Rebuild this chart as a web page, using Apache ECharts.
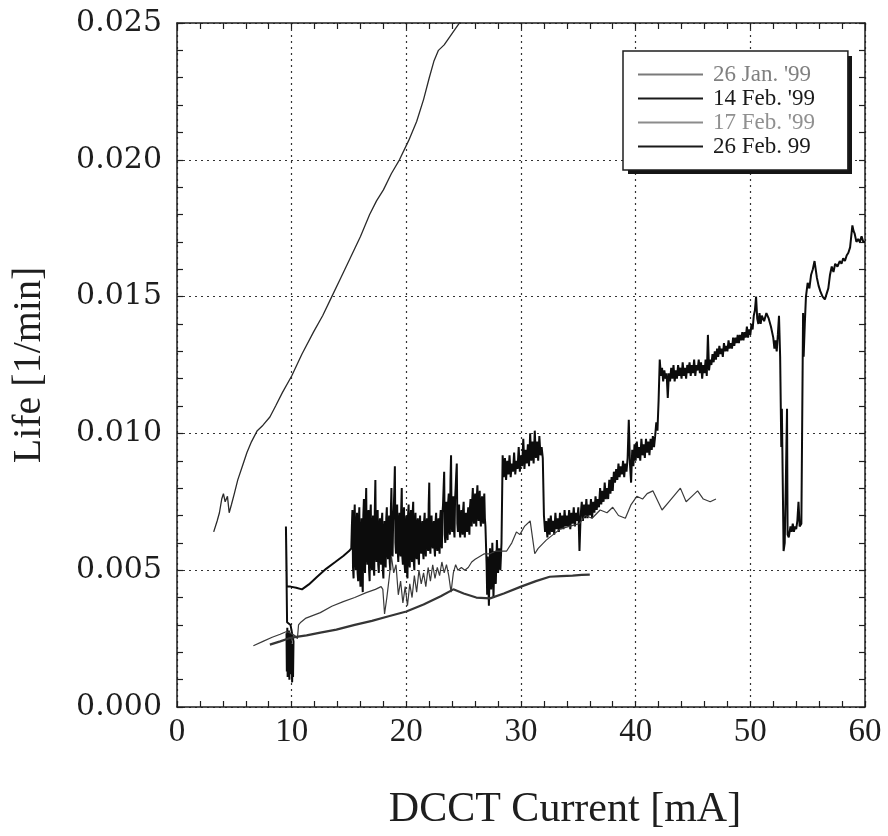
<!DOCTYPE html>
<html>
<head>
<meta charset="utf-8">
<script src="https://cdn.jsdelivr.net/npm/echarts@6/dist/echarts.min.js"></script>
<style>
  html, body { margin: 0; padding: 0; background: #ffffff; }
  #chart { width: 888px; height: 836px; }
</style>
</head>
<body>
<div id="chart"></div>
<script>
// Beam loss rate (Life) versus stored current, four measurement days.
const seriesNames = ["26 Jan. '99", "14 Feb. '99", "17 Feb. '99", "26 Feb. 99"];
const xTickValues = [0, 10, 20, 30, 40, 50, 60];
const yTickValues = [0.000, 0.005, 0.010, 0.015, 0.020, 0.025];

// 26 Jan. '99 : steep rise from 3 mA
const jan26 = [
  [3.2, 0.0064], [3.5, 0.0068], [3.7, 0.0071], [3.9, 0.0076], [4.05, 0.0078],
  [4.2, 0.0075], [4.4, 0.0077], [4.55, 0.0071], [4.75, 0.0074], [5.0, 0.0078],
  [5.3, 0.0083], [5.7, 0.0088], [6.1, 0.0093], [6.5, 0.0097], [7.0, 0.0101],
  [7.5, 0.0103], [8.1, 0.0106], [8.6, 0.0110], [9.2, 0.0115], [10.0, 0.0121],
  [10.9, 0.0129], [11.9, 0.0137], [12.7, 0.0143], [13.5, 0.0150], [14.3, 0.0157],
  [15.1, 0.0164], [16.0, 0.0172], [16.8, 0.0180], [17.4, 0.0185], [18.0, 0.0189],
  [18.7, 0.0195], [19.4, 0.0200], [20.2, 0.0207], [20.9, 0.0214], [21.5, 0.0222],
  [22.0, 0.0230], [22.4, 0.0236], [22.8, 0.0240], [23.3, 0.0242], [23.8, 0.0245],
  [24.3, 0.0248], [24.8, 0.0251]
];

// 14 Feb. '99 : noisy trace from 9.5 mA up to 60 mA
const feb14 = [
  [9.55, 0.0027], [9.58, 0.0013], [9.62, 0.0029], [9.65, 0.0011], [9.69, 0.0026],
  [9.72, 0.0015], [9.76, 0.0028], [9.80, 0.0010], [9.84, 0.0024], [9.88, 0.0013],
  [9.92, 0.0027], [9.96, 0.0012], [10.00, 0.0023], [10.04, 0.0009], [10.08, 0.0019],
  [10.12, 0.0011], [10.16, 0.0024], [9.90, 0.0030], [9.60, 0.0031], [9.50, 0.0066],
  [9.58, 0.0044], [9.90, 0.00440], [10.4, 0.00436], [10.9, 0.00430], [11.5, 0.00448],
  [12.2, 0.00475], [13.0, 0.00505], [13.8, 0.00530], [14.5, 0.00552], [15.0, 0.00570],
  [15.2, 0.0058],
  [15.25, 0.0066], [15.3, 0.0072], [15.35, 0.0051], [15.4, 0.0047], [15.45, 0.0068],
  [15.5, 0.0074], [15.55, 0.0055], [15.6, 0.0050], [15.65, 0.0065], [15.7, 0.0071],
  [15.75, 0.0049], [15.8, 0.0046], [15.85, 0.0067], [15.9, 0.0073], [15.95, 0.0050],
  [16.0, 0.0044], [16.05, 0.0063], [16.1, 0.0069], [16.15, 0.0047], [16.2, 0.0042],
  [16.25, 0.0070], [16.3, 0.0076], [16.35, 0.0053], [16.4, 0.0049], [16.45, 0.0071],
  [16.5, 0.0080], [16.55, 0.0056], [16.6, 0.0052], [16.65, 0.0068], [16.7, 0.0072],
  [16.75, 0.0050], [16.8, 0.0046], [16.85, 0.0069], [16.9, 0.0074], [16.95, 0.0053],
  [17.0, 0.0050], [17.05, 0.0066], [17.1, 0.0070], [17.15, 0.0051], [17.2, 0.0048],
  [17.25, 0.0072], [17.3, 0.0083], [17.35, 0.0057], [17.4, 0.0053], [17.45, 0.0068],
  [17.5, 0.0072], [17.55, 0.0052], [17.6, 0.0049], [17.65, 0.0066], [17.7, 0.0069],
  [17.75, 0.0055], [17.8, 0.0052], [17.85, 0.0068], [17.9, 0.0071], [17.95, 0.0050],
  [18.0, 0.0047], [18.05, 0.0064], [18.1, 0.0068], [18.15, 0.0054], [18.2, 0.0051],
  [18.25, 0.0069], [18.3, 0.0073], [18.35, 0.0057], [18.4, 0.0054], [18.45, 0.0066],
  [18.5, 0.0070], [18.55, 0.0053], [18.6, 0.0050], [18.65, 0.0072], [18.7, 0.0080],
  [18.75, 0.0058], [18.8, 0.0055], [18.85, 0.0068], [18.9, 0.0072], [18.95, 0.0079],
  [19.0, 0.0088], [19.05, 0.0060], [19.1, 0.0056], [19.15, 0.0070], [19.2, 0.0074],
  [19.25, 0.0057], [19.3, 0.0053], [19.35, 0.0067], [19.4, 0.0071], [19.45, 0.0058],
  [19.5, 0.0055], [19.55, 0.0072], [19.6, 0.0080], [19.65, 0.0055], [19.7, 0.0052],
  [19.75, 0.0069], [19.8, 0.0073], [19.85, 0.0052], [19.9, 0.0049], [19.95, 0.0066],
  [20.0, 0.0070], [20.05, 0.0050], [20.1, 0.0047], [20.15, 0.0070], [20.2, 0.0074],
  [20.25, 0.0054], [20.3, 0.0051], [20.35, 0.0068], [20.4, 0.0072], [20.45, 0.0056],
  [20.5, 0.0053], [20.55, 0.0071], [20.6, 0.0075], [20.65, 0.0053], [20.7, 0.0050],
  [20.75, 0.0067], [20.8, 0.0071], [20.85, 0.0057], [20.9, 0.0054], [20.95, 0.0066],
  [21.0, 0.0069], [21.05, 0.0055], [21.1, 0.0052], [21.15, 0.0066], [21.2, 0.0070],
  [21.25, 0.0059], [21.3, 0.0056], [21.35, 0.0065], [21.4, 0.0068], [21.45, 0.0057],
  [21.5, 0.0054], [21.55, 0.0068], [21.6, 0.0071], [21.65, 0.0058], [21.7, 0.0055],
  [21.75, 0.0066], [21.8, 0.0069], [21.85, 0.0060], [21.9, 0.0057], [21.95, 0.0074],
  [22.0, 0.0082], [22.05, 0.0059], [22.1, 0.0056], [22.15, 0.0067], [22.2, 0.0070],
  [22.25, 0.0061], [22.3, 0.0058], [22.35, 0.0065], [22.4, 0.0068], [22.45, 0.0058],
  [22.5, 0.0055], [22.55, 0.0068], [22.6, 0.0071], [22.65, 0.0060], [22.7, 0.0057],
  [22.75, 0.0066], [22.8, 0.0069], [22.85, 0.0059], [22.9, 0.0056], [22.95, 0.0069],
  [23.0, 0.0072], [23.05, 0.0061], [23.1, 0.0058], [23.15, 0.0071], [23.2, 0.0074],
  [23.25, 0.0080], [23.3, 0.0086], [23.35, 0.0063], [23.4, 0.0060], [23.45, 0.0072],
  [23.5, 0.0075], [23.55, 0.0064], [23.6, 0.0061], [23.65, 0.0075], [23.7, 0.0078],
  [23.75, 0.0066], [23.8, 0.0063], [23.85, 0.0083], [23.9, 0.0092], [23.95, 0.0067],
  [24.0, 0.0064], [24.05, 0.0074], [24.1, 0.0077], [24.15, 0.0065], [24.2, 0.0062],
  [24.25, 0.0076], [24.3, 0.0080], [24.35, 0.0085], [24.4, 0.0089], [24.45, 0.0067],
  [24.5, 0.0064], [24.55, 0.0071], [24.6, 0.0074], [24.65, 0.0065], [24.7, 0.0062],
  [24.75, 0.0069], [24.8, 0.0072], [24.85, 0.0066], [24.9, 0.0063], [24.95, 0.0072],
  [25.0, 0.0075], [25.05, 0.0065], [25.1, 0.0062], [25.15, 0.0068], [25.2, 0.0071],
  [25.25, 0.0067], [25.3, 0.0064], [25.35, 0.0070], [25.4, 0.0073], [25.45, 0.0066],
  [25.5, 0.0063], [25.55, 0.0073], [25.6, 0.0076], [25.65, 0.0069], [25.7, 0.0066],
  [25.75, 0.0076], [25.8, 0.0080], [25.85, 0.0070], [25.9, 0.0067], [25.95, 0.0075],
  [26.0, 0.0078], [26.05, 0.0069], [26.1, 0.0066], [26.15, 0.0077], [26.2, 0.0081],
  [26.25, 0.0071], [26.3, 0.0068], [26.35, 0.0076], [26.4, 0.0079], [26.45, 0.0069],
  [26.5, 0.0066], [26.55, 0.0074], [26.6, 0.0077], [26.65, 0.0070], [26.7, 0.0067],
  [26.75, 0.0075], [26.8, 0.0078], [26.85, 0.0069], [26.9, 0.0066], [27.0, 0.0052],
  [27.05, 0.0041], [27.1, 0.0055], [27.2, 0.0037], [27.3, 0.0058], [27.4, 0.0043],
  [27.5, 0.0060], [27.6, 0.0040], [27.7, 0.0057], [27.8, 0.0045], [27.9, 0.0061],
  [28.0, 0.0049], [28.1, 0.0058], [28.2, 0.0050], [28.3, 0.0060], [28.4, 0.0092],
  [28.5, 0.0084], [28.6, 0.0091], [28.7, 0.0083], [28.8, 0.0090], [28.9, 0.0085],
  [29.0, 0.0092], [29.1, 0.0084], [29.2, 0.0089], [29.3, 0.0086], [29.4, 0.0093],
  [29.5, 0.0085], [29.6, 0.0090], [29.7, 0.0087], [29.8, 0.0095], [29.9, 0.0086],
  [30.0, 0.0092], [30.1, 0.0088], [30.2, 0.0098], [30.3, 0.0087], [30.4, 0.0094],
  [30.5, 0.0089], [30.6, 0.0096], [30.7, 0.0088], [30.8, 0.0100], [30.9, 0.0090],
  [31.0, 0.0097], [31.1, 0.0089], [31.2, 0.0101], [31.3, 0.0091], [31.4, 0.0097],
  [31.5, 0.0090], [31.6, 0.0099], [31.7, 0.0092], [31.8, 0.0095], [31.9, 0.0091],
  [32.0, 0.0070], [32.1, 0.0064], [32.2, 0.0068], [32.3, 0.0062], [32.4, 0.0069],
  [32.5, 0.0063], [32.6, 0.0070], [32.7, 0.0064], [32.8, 0.0068], [32.9, 0.0063],
  [33.0, 0.0071], [33.1, 0.0065], [33.2, 0.0069], [33.3, 0.0064], [33.4, 0.0071],
  [33.5, 0.0065], [33.6, 0.0070], [33.7, 0.0065], [33.8, 0.0072], [33.9, 0.0066],
  [34.0, 0.0070], [34.1, 0.0066], [34.2, 0.0072], [34.3, 0.0065], [34.4, 0.0071],
  [34.5, 0.0067], [34.6, 0.0073], [34.7, 0.0066], [34.8, 0.0071], [34.9, 0.0068],
  [35.0, 0.0073], [35.1, 0.0057], [35.2, 0.0070], [35.3, 0.0075], [35.4, 0.0068],
  [35.5, 0.0074], [35.6, 0.0069], [35.7, 0.0076], [35.8, 0.0069], [35.9, 0.0074],
  [36.0, 0.0070], [36.1, 0.0076], [36.2, 0.0069], [36.3, 0.0075], [36.4, 0.0071],
  [36.5, 0.0077], [36.6, 0.0072], [36.7, 0.0076], [36.8, 0.0073], [36.9, 0.0080],
  [37.0, 0.0074], [37.1, 0.0079], [37.2, 0.0075], [37.3, 0.0082], [37.4, 0.0076],
  [37.5, 0.0080], [37.6, 0.0076], [37.7, 0.0083], [37.8, 0.0078], [37.9, 0.0084],
  [38.0, 0.0079], [38.1, 0.0086], [38.2, 0.0082], [38.3, 0.0087], [38.4, 0.0083],
  [38.5, 0.0089], [38.6, 0.0084], [38.7, 0.0088], [38.8, 0.0085], [38.9, 0.0090],
  [39.0, 0.0084], [39.1, 0.0089], [39.2, 0.0086], [39.3, 0.0091], [39.4, 0.0105],
  [39.5, 0.0089], [39.6, 0.0082], [39.7, 0.0094], [39.8, 0.0088], [39.9, 0.0096],
  [40.0, 0.0090], [40.1, 0.0097], [40.2, 0.0091], [40.3, 0.0095], [40.4, 0.0090],
  [40.5, 0.0098], [40.6, 0.0092], [40.7, 0.0096], [40.8, 0.0091], [40.9, 0.0098],
  [41.0, 0.0093], [41.1, 0.0097], [41.2, 0.0092], [41.3, 0.0098], [41.4, 0.0094],
  [41.5, 0.0099], [41.6, 0.0095], [41.7, 0.0099], [41.8, 0.0104], [41.9, 0.0101],
  [42.0, 0.0112], [42.1, 0.0127], [42.2, 0.0121], [42.3, 0.0124], [42.4, 0.0119],
  [42.5, 0.0123], [42.6, 0.0120], [42.7, 0.0122], [42.8, 0.0113], [42.9, 0.0122],
  [43.0, 0.0119], [43.1, 0.0124], [43.2, 0.0120], [43.3, 0.0125], [43.4, 0.0119],
  [43.5, 0.0123], [43.6, 0.0120], [43.7, 0.0125], [43.8, 0.0121], [43.9, 0.0124],
  [44.0, 0.0120], [44.1, 0.0126], [44.2, 0.0121], [44.3, 0.0124], [44.4, 0.0120],
  [44.5, 0.0125], [44.6, 0.0122], [44.7, 0.0126], [44.8, 0.0121], [44.9, 0.0125],
  [45.0, 0.0122], [45.1, 0.0127], [45.2, 0.0121], [45.3, 0.0125], [45.4, 0.0123],
  [45.5, 0.0127], [45.6, 0.0122], [45.7, 0.0126], [45.8, 0.0120], [45.9, 0.0125],
  [46.0, 0.0122], [46.1, 0.0127], [46.2, 0.0121], [46.3, 0.0136], [46.4, 0.0123],
  [46.5, 0.0127], [46.6, 0.0125], [46.7, 0.0129], [46.8, 0.0126], [46.9, 0.0130],
  [47.0, 0.0127], [47.1, 0.0131], [47.2, 0.0128], [47.3, 0.0132], [47.4, 0.0129],
  [47.5, 0.0131], [47.6, 0.0128], [47.7, 0.0133], [47.8, 0.0130], [47.9, 0.0132],
  [48.0, 0.0130], [48.1, 0.0134], [48.2, 0.0131], [48.3, 0.0133], [48.4, 0.0131],
  [48.5, 0.0135], [48.6, 0.0132], [48.7, 0.0135], [48.8, 0.0133], [48.9, 0.0136],
  [49.0, 0.0133], [49.1, 0.0136], [49.2, 0.0134], [49.3, 0.0137], [49.4, 0.0134],
  [49.5, 0.0137], [49.6, 0.0135], [49.7, 0.0139], [49.8, 0.0135], [49.9, 0.0138],
  [50.0, 0.0136], [50.1, 0.0140], [50.2, 0.0138], [50.3, 0.0143], [50.4, 0.0145],
  [50.5, 0.0150], [50.6, 0.0142], [50.7, 0.0140], [50.8, 0.0144], [50.9, 0.0140],
  [51.0, 0.0143], [51.2, 0.0141], [51.4, 0.0144], [51.6, 0.0142], [51.8, 0.0139],
  [52.0, 0.0135], [52.1, 0.0131], [52.2, 0.0134], [52.3, 0.0130], [52.4, 0.0136],
  [52.5, 0.0143], [52.6, 0.0128], [52.7, 0.0095], [52.75, 0.0109], [52.85, 0.0109],
  [52.9, 0.0057], [53.0, 0.0060], [53.1, 0.0083], [53.2, 0.0109], [53.25, 0.0063],
  [53.35, 0.0062], [53.5, 0.0066], [53.6, 0.0064], [53.7, 0.0067], [53.8, 0.0064],
  [53.9, 0.0066], [54.0, 0.0065], [54.1, 0.0068], [54.2, 0.0075], [54.3, 0.0066],
  [54.45, 0.0067], [54.6, 0.0144], [54.65, 0.0128], [54.75, 0.0140], [54.85, 0.0150],
  [55.0, 0.0155], [55.15, 0.0153], [55.3, 0.0158], [55.45, 0.0160], [55.6, 0.0163],
  [55.8, 0.0157], [55.95, 0.0154], [56.1, 0.0152], [56.3, 0.0150], [56.5, 0.0149],
  [56.65, 0.0151], [56.8, 0.0153], [56.95, 0.0158], [57.1, 0.0161], [57.25, 0.0159],
  [57.4, 0.0162], [57.6, 0.0161], [57.8, 0.0163], [57.95, 0.0162], [58.1, 0.0164],
  [58.25, 0.0163], [58.4, 0.0165], [58.55, 0.0166], [58.7, 0.0168], [58.8, 0.0172],
  [58.9, 0.0176], [59.0, 0.0174], [59.1, 0.0173], [59.25, 0.0170], [59.4, 0.0171],
  [59.55, 0.0170], [59.7, 0.0172], [59.85, 0.0170], [60.0, 0.0170]
];

// 17 Feb. '99 : thin trace from 6.7 mA to 47 mA
const feb17 = [
  [6.66, 0.00224], [7.5, 0.00240], [8.3, 0.00255], [9.0, 0.00266], [9.56, 0.00276],
  [9.9, 0.00270], [10.3, 0.00260], [10.5, 0.00250], [10.6, 0.00300], [10.8, 0.00310],
  [11.25, 0.00325], [12.5, 0.00345], [13.5, 0.00368], [14.5, 0.00385], [15.5, 0.00400],
  [16.5, 0.00418], [17.3, 0.00430], [17.8, 0.00440], [17.95, 0.00430], [18.1, 0.00340],
  [18.3, 0.0040], [18.5, 0.0047], [18.7, 0.0055], [18.9, 0.0049], [19.1, 0.0052],
  [19.3, 0.0041], [19.5, 0.0046], [19.7, 0.0038], [19.9, 0.0044], [20.1, 0.0037],
  [20.3, 0.0045], [20.5, 0.0040], [20.7, 0.0048], [20.9, 0.0042], [21.1, 0.0050],
  [21.3, 0.0045], [21.5, 0.0049], [21.7, 0.0044], [21.9, 0.0051], [22.1, 0.0046],
  [22.3, 0.0052], [22.5, 0.0047], [22.7, 0.0051], [22.9, 0.0048], [23.1, 0.0053],
  [23.3, 0.0049], [23.5, 0.0052], [23.7, 0.0048], [23.9, 0.0042], [24.1, 0.0049],
  [24.3, 0.0052], [24.5, 0.0050], [24.8, 0.0051], [25.1, 0.0050], [25.4, 0.0051],
  [25.7, 0.0053], [26.0, 0.0054], [26.4, 0.0055], [26.8, 0.0056], [27.3, 0.0056],
  [27.8, 0.0057], [28.3, 0.0057], [28.75, 0.0057], [29.2, 0.0060], [29.6, 0.0064],
  [29.9, 0.0063], [30.3, 0.0066], [30.8, 0.0068], [31.0, 0.0062], [31.2, 0.0056],
  [31.5, 0.0058], [32.2, 0.0061], [32.8, 0.0063], [33.4, 0.0065], [34.2, 0.0066],
  [35.1, 0.0067], [35.6, 0.0070], [36.2, 0.0069], [36.9, 0.0072], [37.5, 0.0071],
  [38.0, 0.0073], [38.5, 0.0070], [39.1, 0.0069], [39.6, 0.0074], [40.1, 0.0077],
  [40.6, 0.0076], [41.0, 0.0078], [41.5, 0.0079], [42.3, 0.0072], [42.9, 0.0075],
  [43.5, 0.0078], [43.9, 0.0080], [44.4, 0.0075], [44.9, 0.0077], [45.4, 0.0079],
  [45.9, 0.0076], [46.5, 0.0075], [47.0, 0.0076]
];

// 26 Feb. 99 : smooth low trace from 8 mA to 36 mA
const feb26 = [
  [8.1, 0.00228], [9.0, 0.00240], [9.85, 0.00252], [10.4, 0.00256], [11.3, 0.00262],
  [12.5, 0.00272], [13.9, 0.00283], [15.5, 0.00300], [17.0, 0.00315], [18.3, 0.00330],
  [20.0, 0.00349], [21.5, 0.00375], [23.0, 0.00405], [24.1, 0.00430], [25.0, 0.00415],
  [26.1, 0.00400], [27.3, 0.00397], [28.5, 0.00415], [30.0, 0.00440], [31.3, 0.00460],
  [32.5, 0.00476], [33.5, 0.00478], [34.5, 0.00480], [35.3, 0.00483], [36.0, 0.00484]
];

const serifFont = "'Liberation Serif', 'Times New Roman', serif";
const ink = '#1e1e1e';

const gridLine = { show: true, lineStyle: { color: '#333', width: 1.2, type: [2, 4] } };
const frameLine = { show: true, onZero: false, lineStyle: { color: ink, width: 1.5 } };
const tick = { show: true, inside: true, length: 6, lineStyle: { color: ink, width: 1.2 } };
const minor = { show: true, splitNumber: 5, length: 6, lineStyle: { color: ink, width: 1.2 } };

const legendStyles = [
  { line: '#7a7a7a', text: '#808080' },
  { line: '#1a1a1a', text: '#1a1a1a' },
  { line: '#8c8c8c', text: '#909090' },
  { line: '#1a1a1a', text: '#1a1a1a' }
];

// legend box geometry (drop shadow drawn behind it)
const legendBox = { left: 623, top: 51, width: 224, height: 118 };

const chart = echarts.init(document.getElementById('chart'), null, { renderer: 'canvas' });

chart.setOption({
  animation: false,
  backgroundColor: '#ffffff',
  textStyle: { fontFamily: serifFont, color: ink },
  grid: { left: 177, top: 23, width: 688, height: 688, containLabel: false },
  graphic: [{
    type: 'rect', z: 100, zlevel: 0,
    shape: { x: legendBox.left + 5, y: legendBox.top + 5, width: legendBox.width, height: legendBox.height },
    style: { fill: '#151515' }, silent: true
  }],
  legend: {
    orient: 'vertical',
    left: legendBox.left,
    top: legendBox.top,
    z: 101,
    padding: [12, 33, 12, 15],
    itemGap: 1,
    itemWidth: 65,
    itemHeight: 2,
    icon: 'rect',
    backgroundColor: '#ffffff',
    borderColor: ink,
    borderWidth: 1.5,
    textStyle: { fontFamily: serifFont, fontSize: 23, lineHeight: 23, padding: [0, 0, 0, 5] },
    data: seriesNames.map((n, i) => ({
      name: n,
      itemStyle: { color: legendStyles[i].line },
      textStyle: { color: legendStyles[i].text }
    }))
  },
  xAxis: [
    {
      type: 'value', position: 'bottom',
      min: xTickValues[0], max: xTickValues[xTickValues.length - 1], interval: 10,
      name: 'DCCT Current [mA]', nameLocation: 'middle', nameGap: 82,
      nameTextStyle: { fontFamily: serifFont, fontSize: 42, color: ink, padding: [0, 0, 0, 88] },
      axisLine: frameLine, axisTick: tick, minorTick: minor,
      splitLine: gridLine,
      axisLabel: { fontFamily: serifFont, fontSize: 33, color: ink, margin: 9 }
    },
    {
      type: 'value', position: 'top',
      min: xTickValues[0], max: xTickValues[xTickValues.length - 1], interval: 10,
      axisLine: frameLine, axisTick: tick, minorTick: minor,
      splitLine: { show: false }, axisLabel: { show: false }
    }
  ],
  yAxis: [
    {
      type: 'value', position: 'left',
      min: yTickValues[0], max: yTickValues[yTickValues.length - 1], interval: 0.005,
      name: 'Life [1/min]', nameLocation: 'middle', nameGap: 128, nameRotate: 90,
      nameTextStyle: { fontFamily: serifFont, fontSize: 40, color: ink },
      axisLine: frameLine, axisTick: tick, minorTick: minor,
      splitLine: gridLine,
      axisLabel: {
        fontFamily: "'DejaVu Serif', serif", fontSize: 30, color: ink, margin: 15,
        formatter: v => v.toFixed(3)
      }
    },
    {
      type: 'value', position: 'right',
      min: yTickValues[0], max: yTickValues[yTickValues.length - 1], interval: 0.005,
      axisLine: frameLine, axisTick: tick, minorTick: minor,
      splitLine: { show: false }, axisLabel: { show: false }
    }
  ],
  series: [
    {
      name: seriesNames[0], type: 'line', data: jan26, showSymbol: false, symbol: 'none',
      clip: true, color: '#2a2a2a', lineStyle: { width: 1.3, color: '#2a2a2a' }, z: 3
    },
    {
      name: seriesNames[1], type: 'line', data: feb14, showSymbol: false, symbol: 'none',
      clip: true, color: '#0c0c0c', lineStyle: { width: 2.0, color: '#0c0c0c' }, z: 4
    },
    {
      name: seriesNames[2], type: 'line', data: feb17, showSymbol: false, symbol: 'none',
      clip: true, color: '#3a3a3a', lineStyle: { width: 1.2, color: '#3a3a3a' }, z: 5
    },
    {
      name: seriesNames[3], type: 'line', data: feb26, showSymbol: false, symbol: 'none',
      clip: true, color: '#353535', lineStyle: { width: 2.2, color: '#353535' }, z: 5
    }
  ]
});
</script>
</body>
</html>
